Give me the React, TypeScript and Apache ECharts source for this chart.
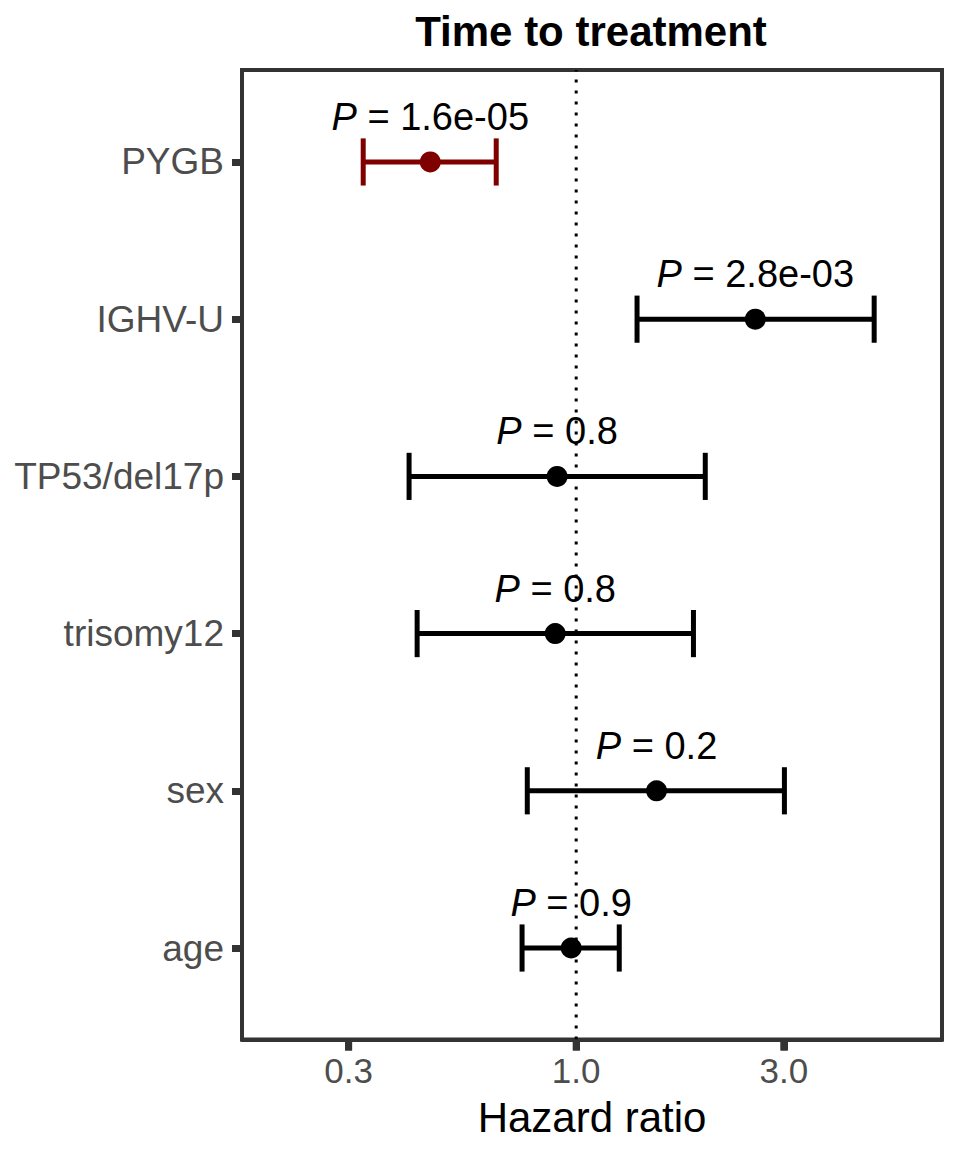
import React, { useEffect, useRef } from 'react';
import * as echarts from 'echarts';

// ---- data (top row first) ----
const categories = ['PYGB', 'IGHV-U', 'TP53/del17p', 'trisomy12', 'sex', 'age'];
const hazardRatio = [0.462, 2.58, 0.904, 0.895, 1.53, 0.974];
const ciLower = [0.324, 1.38, 0.413, 0.431, 0.772, 0.751];
const ciUpper = [0.655, 4.84, 1.98, 1.86, 3.01, 1.256];
const pValueLabels = ['1.6e-05', '2.8e-03', '0.8', '0.8', '0.2', '0.9'];
const highlighted = ['PYGB'];
const xTickValues = [0.3, 1.0, 3.0];
const xLimits = [0.1706, 6.93];
const yLimits = [0.418, 6.585];
const referenceHR = 1;

const FONT = '"Liberation Sans", Arial, Helvetica, sans-serif';
const lg = (v: number) => Math.log10(v);

export default function App() {
  const ref = useRef<HTMLDivElement>(null);

  useEffect(() => {
    if (!ref.current) return;
    const chart = echarts.init(ref.current, undefined, { renderer: 'svg' });
    const n = categories.length;
    const yPos = (i: number) => n - i;
    const yTicks = categories.map((_, i) => yPos(i));

    const barData = categories.map((_, i) => [
      lg(ciLower[i]),
      lg(ciUpper[i]),
      lg(hazardRatio[i]),
      yPos(i),
      i,
    ]);

    const option: any = {
      animation: false,
      backgroundColor: '#ffffff',
      grid: {
        left: 242,
        right: 18,
        top: 70,
        bottom: 112.5,
        show: true,
        borderColor: '#333333',
        borderWidth: 4,
        backgroundColor: 'transparent',
      },
      graphic: [
        {
          type: 'text',
          x: 591,
          y: 31,
          style: {
            text: 'Time to treatment',
            fontSize: 42,
            fontWeight: 'bold',
            fontFamily: FONT,
            fill: '#000000',
            align: 'center',
            verticalAlign: 'middle',
            textAlign: 'center',
            textVerticalAlign: 'middle',
          },
        },
      ],
      xAxis: {
        type: 'value',
        min: lg(xLimits[0]),
        max: lg(xLimits[1]),
        position: 'bottom',
        axisLine: { show: true, onZero: false, lineStyle: { color: '#333333', width: 4 } },
        splitLine: { show: false },
        axisTick: {
          show: true,
          inside: false,
          customValues: xTickValues.map(lg),
          length: 11,
          lineStyle: { color: '#333333', width: 7 },
        },
        axisLabel: {
          customValues: xTickValues.map(lg),
          formatter: (v: number) => Math.pow(10, v).toFixed(1),
          fontSize: 35,
          color: '#4D4D4D',
          fontFamily: FONT,
          margin: 13,
        },
        name: 'Hazard ratio',
        nameLocation: 'middle',
        nameGap: 57,
        nameTextStyle: { fontSize: 42, color: '#000000', fontFamily: FONT },
      },
      yAxis: {
        type: 'value',
        min: yLimits[0],
        max: yLimits[1],
        position: 'left',
        axisLine: { show: true, onZero: false, lineStyle: { color: '#333333', width: 4 } },
        splitLine: { show: false },
        axisTick: {
          show: true,
          inside: false,
          customValues: yTicks,
          length: 10,
          lineStyle: { color: '#333333', width: 7 },
        },
        axisLabel: {
          customValues: yTicks,
          formatter: (v: number) => categories[n - Math.round(v)] ?? '',
          fontSize: 37,
          color: '#4D4D4D',
          fontFamily: FONT,
          margin: 18,
        },
      },
      series: [
        {
          type: 'line',
          data: [
            [lg(referenceHR), yLimits[0]],
            [lg(referenceHR), yLimits[1]],
          ],
          showSymbol: false,
          symbol: 'none',
          lineStyle: { color: '#000000', width: 3, type: [3, 8] },
          z: 1,
          silent: true,
        },
        {
          // x tick marks placed through the x scale (reinforces axisTick)
          type: 'custom',
          data: xTickValues.map((v) => [lg(v), yLimits[0]]),
          clip: false,
          silent: true,
          z: 10,
          renderItem: (params: any, api: any) => {
            const p = api.coord([api.value(0), api.value(1)]);
            return {
              type: 'rect',
              shape: { x: p[0] - 3.5, y: p[1], width: 7, height: 11 },
              style: { fill: '#333333' },
            };
          },
        },
        {
          type: 'custom',
          data: barData,
          z: 2,
          renderItem: (params: any, api: any) => {
            const lo = api.value(0);
            const hi = api.value(1);
            const est = api.value(2);
            const yv = api.value(3);
            const idx = api.value(4);
            const pLo = api.coord([lo, yv]);
            const pHi = api.coord([hi, yv]);
            const pEst = api.coord([est, yv]);
            const capHalf = api.size([0, 0.15])[1];
            const color = highlighted.includes(categories[idx]) ? '#800000' : '#000000';
            const lineStyle = { stroke: color, lineWidth: 5 };
            return {
              type: 'group',
              children: [
                { type: 'line', shape: { x1: pLo[0], y1: pLo[1], x2: pHi[0], y2: pHi[1] }, style: lineStyle },
                { type: 'line', shape: { x1: pLo[0], y1: pLo[1] - capHalf, x2: pLo[0], y2: pLo[1] + capHalf }, style: lineStyle },
                { type: 'line', shape: { x1: pHi[0], y1: pHi[1] - capHalf, x2: pHi[0], y2: pHi[1] + capHalf }, style: lineStyle },
                { type: 'circle', shape: { cx: pEst[0], cy: pEst[1], r: 10.5 }, style: { fill: color } },
                {
                  type: 'text',
                  x: pEst[0],
                  y: pEst[1] - 45,
                  style: {
                    text: '{i|P} = ' + pValueLabels[idx],
                    fill: '#000000',
                    fontSize: 38,
                    fontFamily: FONT,
                    align: 'center',
                    verticalAlign: 'middle',
                    rich: { i: { fontStyle: 'italic', fontSize: 38, fontFamily: FONT, fill: '#000000' } },
                  },
                },
              ],
            };
          },
        },
      ],
    };

    chart.setOption(option);
    return () => chart.dispose();
  }, []);

  return (
    <div
      ref={ref}
      style={{ position: 'absolute', left: 0, top: 0, width: 960, height: 1152, background: '#fff' }}
    />
  );
}
